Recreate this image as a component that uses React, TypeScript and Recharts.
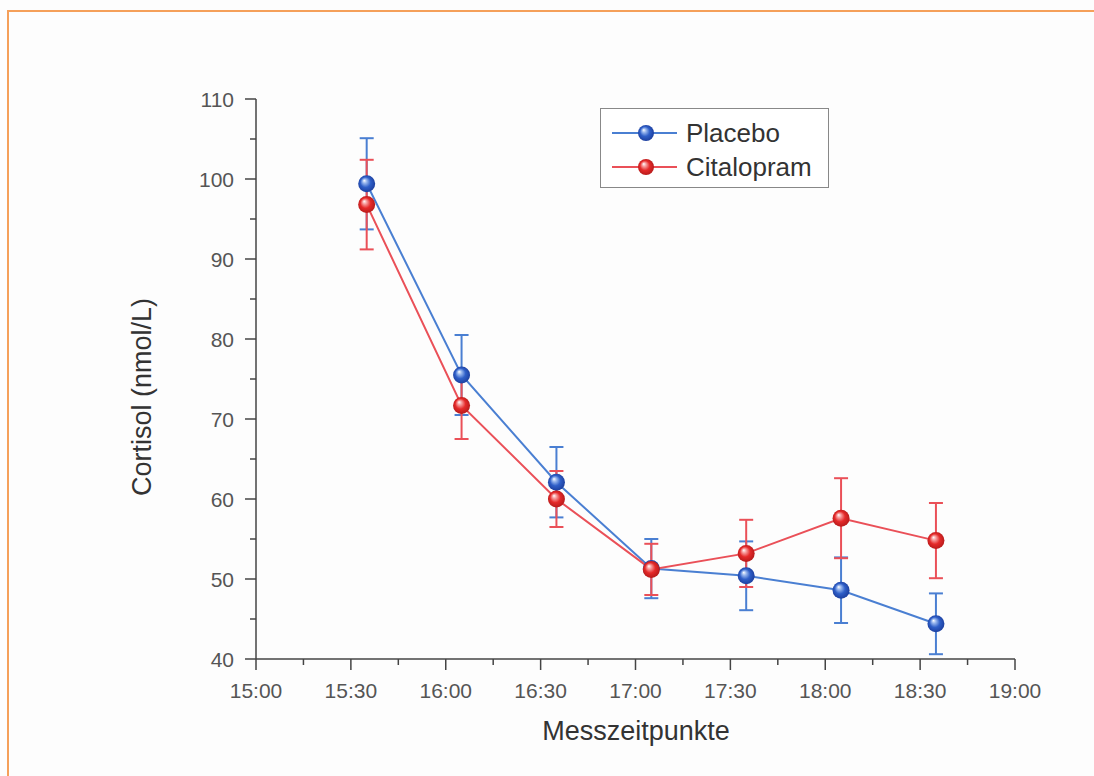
import React from "react";
import { ErrorBar, Label, Legend, Line, LineChart, XAxis, YAxis } from "recharts";

// Messzeitpunkte (clock time) and mean cortisol with SEM
const times = ["15:35", "16:05", "16:35", "17:05", "17:35", "18:05", "18:35"];
const placebo = [99.4, 75.5, 62.1, 51.3, 50.4, 48.6, 44.4];
const placeboErr = [5.7, 5.0, 4.4, 3.7, 4.3, 4.1, 3.8];
const citalopram = [96.8, 71.7, 60.0, 51.2, 53.2, 57.6, 54.8];
const citalopramErr = [5.6, 4.2, 3.5, 3.2, 4.2, 5.0, 4.7];

const xTicks = [0, 15, 30, 45, 60, 75, 90, 105, 120, 135, 150, 165, 180, 195, 210, 225, 240];
const yTicks = [40, 45, 50, 55, 60, 65, 70, 75, 80, 85, 90, 95, 100, 105, 110];

const FONT = "'Liberation Sans', Arial, sans-serif";
const BLUE_LINE = "#4a7fd2";
const RED_LINE = "#ea5058";

const toMinutes = (t: string) => {
  const [h, m] = t.split(":").map(Number);
  return (h - 15) * 60 + m;
};
const fmtTime = (v: number) => {
  const h = 15 + Math.floor(v / 60);
  const m = v % 60;
  return `${h}:${m < 10 ? "0" : ""}${m}`;
};

const data = times.map((t, i) => ({
  t: toMinutes(t),
  placebo: placebo[i],
  placeboErr: placeboErr[i],
  citalopram: citalopram[i],
  citalopramErr: citalopramErr[i],
}));

const series = [
  { key: "placebo", name: "Placebo", line: BLUE_LINE, grad: "sphereBlue" },
  { key: "citalopram", name: "Citalopram", line: RED_LINE, grad: "sphereRed" },
];

function Sphere({ cx, cy, grad, r = 8.5 }: { cx: number; cy: number; grad: string; r?: number }) {
  if (cx == null || cy == null) return null;
  return <circle cx={cx} cy={cy} r={r} fill={`url(#${grad})`} />;
}

function XTick(props: any) {
  const { x, y, payload } = props;
  const major = payload.value % 30 === 0;
  return (
    <g>
      <line x1={x} y1={y} x2={x} y2={y + (major ? 11 : 6)} stroke="#444" strokeWidth={1.5} />
      {major && (
        <text x={x} y={y + 31} textAnchor="middle" dominantBaseline="central" fontSize={21} fill="#555" fontFamily={FONT}>
          {fmtTime(payload.value)}
        </text>
      )}
    </g>
  );
}

function YTick(props: any) {
  const { x, y, payload } = props;
  const major = payload.value % 10 === 0;
  return (
    <g>
      <line x1={x} y1={y} x2={x - (major ? 11 : 6)} y2={y} stroke="#444" strokeWidth={1.5} />
      {major && (
        <text x={x - 22} y={y} textAnchor="end" dominantBaseline="central" fontSize={21} fill="#555" fontFamily={FONT}>
          {payload.value}
        </text>
      )}
    </g>
  );
}

function LegendBox() {
  return (
    <div
      style={{
        border: "1.5px solid #888",
        width: 229,
        height: 80,
        boxSizing: "border-box",
        background: "#fff",
        fontFamily: FONT,
        fontSize: 26,
        color: "#333",
        paddingTop: 7,
      }}
    >
      {series.map((s) => (
        <div key={s.key} style={{ display: "flex", alignItems: "center", height: 34 }}>
          <svg width={75} height={24} style={{ marginLeft: 10 }}>
            <line x1={1} y1={12} x2={66} y2={12} stroke={s.line} strokeWidth={2} />
            <Sphere cx={35} cy={12} grad={s.grad} r={8} />
          </svg>
          <span>{s.name}</span>
        </div>
      ))}
    </div>
  );
}

export default function App() {
  return (
    <div style={{ position: "absolute", left: 0, top: 0, width: 1094, height: 776, background: "#fdfdfd", overflow: "hidden" }}>
      <div
        style={{
          position: "absolute",
          left: 7,
          top: 10,
          width: 1120,
          height: 820,
          border: "2px solid #f5a05a",
        }}
      />
      <div style={{ position: "absolute", left: 0, top: 0 }}>
        <LineChart width={1094} height={776} data={data} margin={{ top: 99, right: 79, bottom: 77, left: 176 }}>
          <defs>
            <radialGradient id="sphereBlue" cx="50%" cy="50%" r="55%" fx="35%" fy="30%">
              <stop offset="0%" stopColor="#ffffff" />
              <stop offset="22%" stopColor="#9ab8ee" />
              <stop offset="55%" stopColor="#2f5fc8" />
              <stop offset="100%" stopColor="#1a3a98" />
            </radialGradient>
            <radialGradient id="sphereRed" cx="50%" cy="50%" r="55%" fx="35%" fy="30%">
              <stop offset="0%" stopColor="#ffffff" />
              <stop offset="22%" stopColor="#f7a0a0" />
              <stop offset="55%" stopColor="#e52a2a" />
              <stop offset="100%" stopColor="#b01818" />
            </radialGradient>
          </defs>
          <XAxis
            dataKey="t"
            type="number"
            domain={[0, 240]}
            ticks={xTicks}
            interval={0}
            height={40}
            tickSize={0}
            tickMargin={0}
            tickLine={false}
            tick={<XTick />}
            axisLine={{ stroke: "#444", strokeWidth: 1.5 }}
          >
            <Label
              content={() => (
                <text x={636} y={731} textAnchor="middle" dominantBaseline="central" fontSize={27} fill="#333" fontFamily={FONT}>
                  Messzeitpunkte
                </text>
              )}
            />
          </XAxis>
          <YAxis
            type="number"
            domain={[40, 110]}
            ticks={yTicks}
            interval={0}
            width={80}
            tickSize={0}
            tickMargin={0}
            tickLine={false}
            tick={<YTick />}
            axisLine={{ stroke: "#444", strokeWidth: 1.5 }}
          >
            <Label
              content={() => (
                <text
                  x={142}
                  y={397}
                  transform="rotate(-90 142 397)"
                  textAnchor="middle"
                  dominantBaseline="central"
                  fontSize={27}
                  fill="#333"
                  fontFamily={FONT}
                >
                  Cortisol (nmol/L)
                </text>
              )}
            />
          </YAxis>
          <Legend
            layout="vertical"
            align="center"
            verticalAlign="middle"
            content={() => <LegendBox />}
            wrapperStyle={{ position: "absolute", left: 600, top: 108, width: 229, height: 80 }}
          />
          {series.map((s) => (
            <Line
              key={s.key}
              dataKey={s.key}
              name={s.name}
              stroke={s.line}
              strokeWidth={2}
              isAnimationActive={false}
              dot={(p: any) => <Sphere key={`${s.key}-${p.index}`} cx={p.cx} cy={p.cy} grad={s.grad} />}
              activeDot={false}
            >
              <ErrorBar dataKey={`${s.key}Err`} width={7} stroke={s.line} strokeWidth={2} direction="y" />
            </Line>
          ))}
        </LineChart>
      </div>
    </div>
  );
}
